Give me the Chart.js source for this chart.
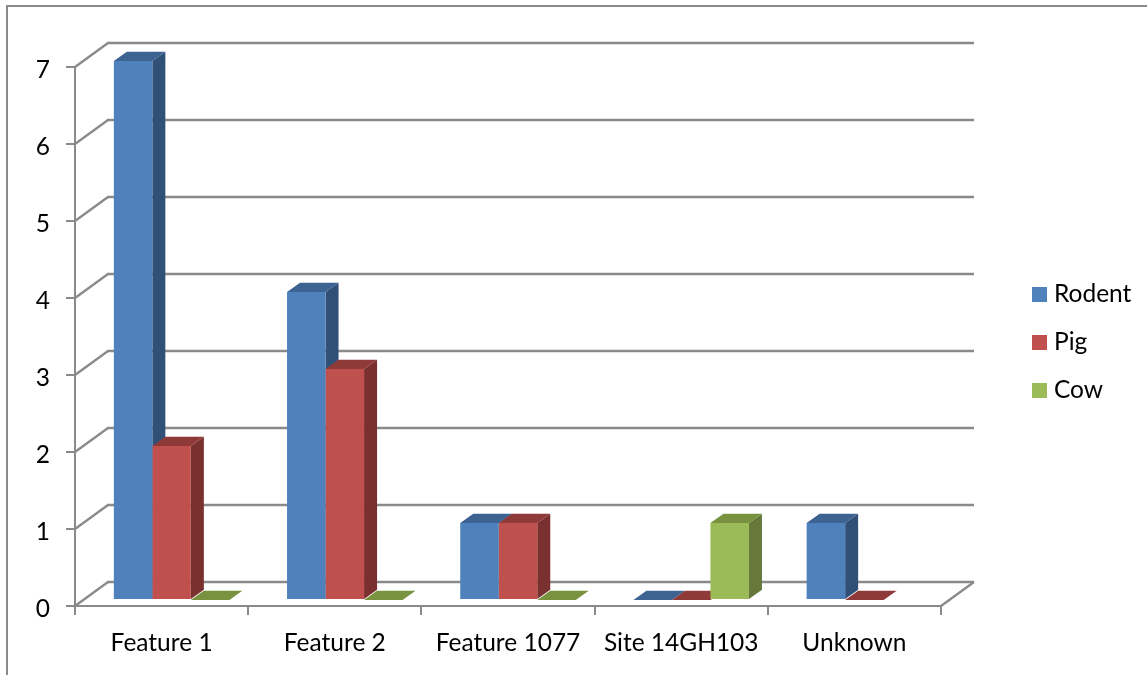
<!DOCTYPE html>
<html>
<head>
<meta charset="utf-8">
<title>Faunal remains by feature</title>
<script src="https://cdn.jsdelivr.net/npm/chart.js@4"></script>
<style>
    html, body { margin: 0; padding: 0; background: #fff; }
    canvas { display: block; }
</style>
</head>
<body>
<canvas id="bonesChart" width="1147" height="675"></canvas>
<script>
const categories = ['Feature 1', 'Feature 2', 'Feature 1077', 'Site 14GH103', 'Unknown'];
const rodentCounts = [7, 4, 1, 0, 1];
const pigCounts = [2, 3, 1, 0, 0];
const cowCounts = [0, 0, 0, 1, null];

const frontColors = ['#4F81BD', '#C0504D', '#9BBB59'];
const topColors = ['#3C6392', '#8F3A38', '#78923F'];
const sideColors = ['#315078', '#7A302E', '#66793A'];

const lineGray = '#8A8A8A';
const labelFont = { family: 'Lato', size: 24.5 };

// offset of the back wall from the front plane of the axes
const wallX = 33;
const wallY = -24;
// offset of the bars' front faces from that plane, and how deep a bar is
const barShiftX = 10;
const barShiftY = -6;
const barDepthX = 13;
const barDepthY = -9.3;

function fillPoly(ctx, color, pts) {
    ctx.fillStyle = color;
    ctx.beginPath();
    pts.forEach((p, i) => i ? ctx.lineTo(p[0], p[1]) : ctx.moveTo(p[0], p[1]));
    ctx.closePath();
    ctx.fill();
}

function line(ctx, x1, y1, x2, y2) {
    ctx.beginPath();
    ctx.moveTo(x1, y1);
    ctx.lineTo(x2, y2);
    ctx.stroke();
}

const box3d = {
    id: 'box3d',
    // outer frame of the chart, open on the right and at the bottom
    beforeDraw(chart) {
        const ctx = chart.ctx;
        ctx.save();
        ctx.strokeStyle = lineGray;
        ctx.lineWidth = 2;
        line(ctx, 7, 6, 1147, 6);
        line(ctx, 7, 5, 7, 675);
        ctx.restore();
    },
    beforeDatasetsDraw(chart) {
        const ctx = chart.ctx;
        const { x, y } = chart.scales;
        const left = x.left;
        const right = x.right;
        ctx.save();
        ctx.strokeStyle = lineGray;
        ctx.lineWidth = 2.4;
        y.ticks.forEach(t => {
            const py = y.getPixelForValue(t.value);
            line(ctx, left, py, left + wallX, py + wallY);
            line(ctx, left + wallX - 1, py + wallY, right + wallX, py + wallY);
        });
        line(ctx, right, y.bottom, right + wallX, y.bottom + wallY);

        // side and top faces; the fronts are drawn afterwards by the bar controller
        categories.forEach((_, i) => {
            chart.data.datasets.forEach((ds, d) => {
                if (ds.data[i] === null) return;
                const bar = chart.getDatasetMeta(d).data[i];
                const x0 = bar.x - bar.width / 2 + barShiftX;
                const x1 = x0 + bar.width;
                const top = bar.y + barShiftY;
                const bottom = bar.base + barShiftY;
                if (ds.data[i] > 0) {
                    fillPoly(ctx, sideColors[d], [
                        [x1, top], [x1 + barDepthX, top + barDepthY],
                        [x1 + barDepthX, bottom + barDepthY], [x1, bottom]
                    ]);
                }
                fillPoly(ctx, topColors[d], [
                    [x0, top], [x0 + barDepthX, top + barDepthY],
                    [x1 + barDepthX, top + barDepthY], [x1, top]
                ]);
            });
        });
        ctx.restore();
    },
    beforeDatasetDraw(chart) {
        chart.ctx.save();
        chart.ctx.translate(barShiftX, barShiftY);
    },
    afterDatasetDraw(chart) {
        chart.ctx.restore();
    },
    // legend: small squares with the text set close beside them
    afterDraw(chart) {
        const ctx = chart.ctx;
        ctx.save();
        ctx.font = labelFont.size + 'px ' + labelFont.family;
        ctx.textBaseline = 'middle';
        chart.data.datasets.forEach((ds, d) => {
            const rowY = 294.5 + d * 48;
            ctx.fillStyle = ds.backgroundColor;
            ctx.fillRect(1032, rowY - 7.5, 15, 15);
            ctx.fillStyle = '#000';
            ctx.fillText(ds.label, 1054, rowY);
        });
        ctx.restore();
    }
};

const bonesChart = new Chart(document.getElementById('bonesChart'), {
    type: 'bar',
    data: {
        labels: categories,
        datasets: [
            { label: 'Rodent', data: rodentCounts, backgroundColor: frontColors[0], clip: false },
            { label: 'Pig', data: pigCounts, backgroundColor: frontColors[1], clip: false },
            { label: 'Cow', data: cowCounts, backgroundColor: frontColors[2], clip: false }
        ]
    },
    options: {
        responsive: false,
        animation: false,
        events: [],
        barPercentage: 1,
        categoryPercentage: 0.667,
        layout: {
            autoPadding: false,
            padding: { top: 67, right: 206, bottom: 0, left: 0 }
        },
        scales: {
            x: {
                afterFit(scale) { scale.height = 69; },
                grid: { drawOnChartArea: false, color: lineGray, lineWidth: 2, tickLength: 9 },
                border: { color: lineGray, width: 2 },
                ticks: { color: '#000', font: labelFont, padding: 13, maxRotation: 0, autoSkip: false }
            },
            y: {
                min: 0,
                max: 7,
                afterFit(scale) { scale.width = 75; },
                grid: { drawOnChartArea: false, color: lineGray, lineWidth: 2, tickLength: 9 },
                border: { color: lineGray, width: 2 },
                ticks: { stepSize: 1, color: '#000', font: labelFont, padding: 16, labelOffset: 3 }
            }
        },
        plugins: {
            legend: { display: false },
            tooltip: { enabled: false }
        }
    },
    plugins: [box3d]
});
</script>
</body>
</html>
